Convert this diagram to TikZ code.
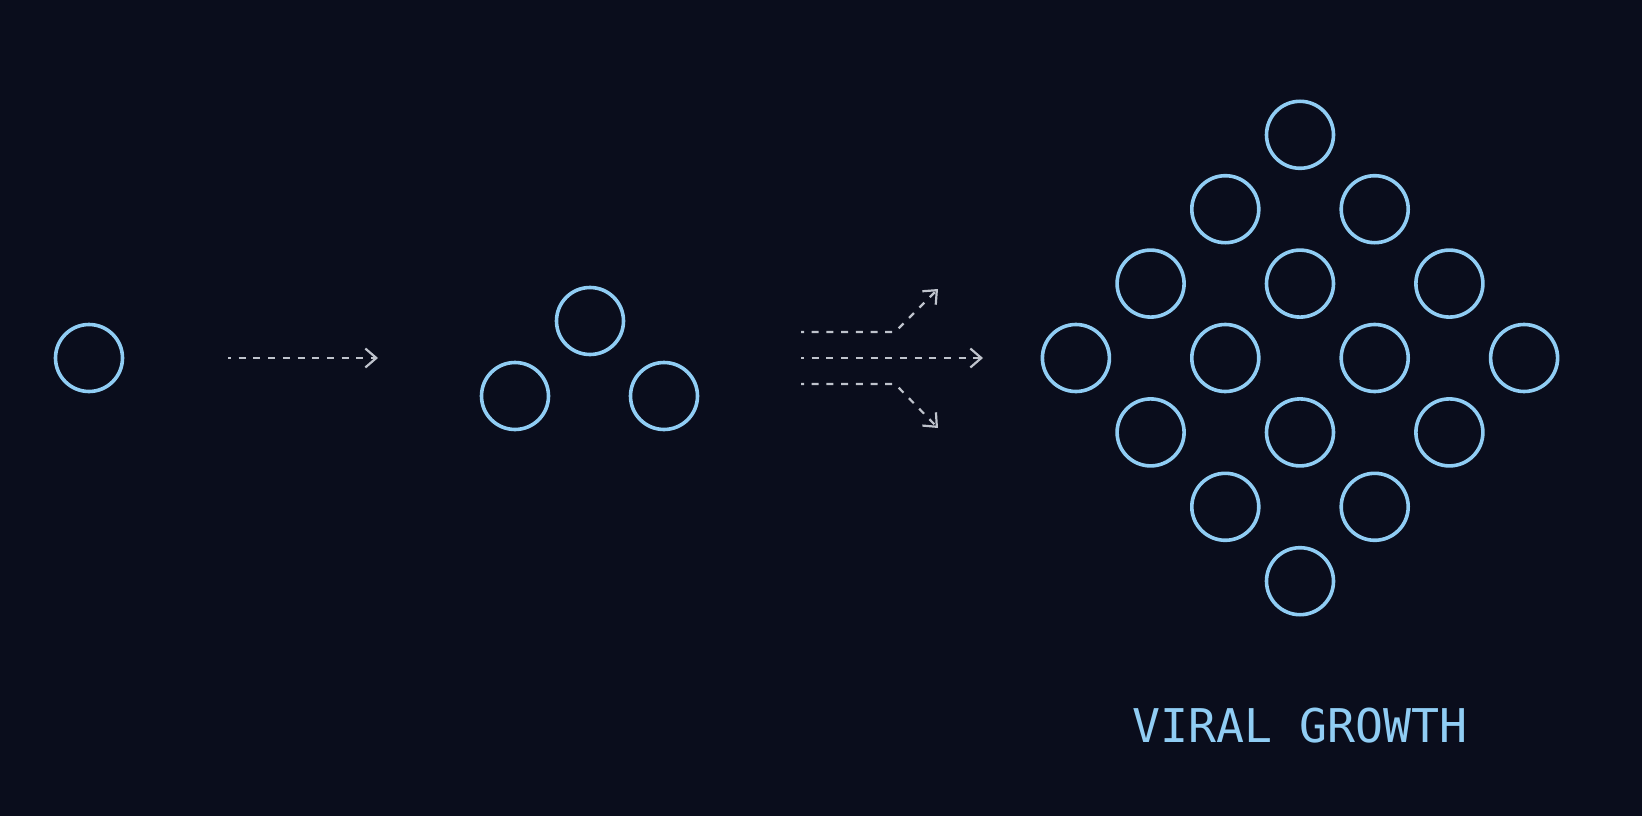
\documentclass[tikz,border=0pt]{standalone}
\usepackage{fontspec}
\newfontfamily\monofont{DejaVu Sans Mono}
\usetikzlibrary{arrows.meta, positioning, calc}

\definecolor{bgdark}{HTML}{0A0D1C}
\definecolor{cellblue}{HTML}{90CDF4}
\definecolor{flowgray}{HTML}{BFC3CC}

\begin{document}
\begin{tikzpicture}[
  x=1pt, y=-1pt,
  % Define styles for different elements
  cell/.style={draw=cellblue, line width=3.6pt, circle, minimum size=67pt, inner sep=0pt},
  flow/.style={draw=flowgray, line width=2.2pt, dash pattern=on 7pt off 7.7pt, dash phase=4pt,
    -{Straight Barb[length=11pt, width=19pt, line width=2.2pt]}},
  titletext/.style={text=cellblue, font=\monofont\fontsize{46.5}{52}\selectfont, anchor=base}
]

% Background
\fill[bgdark] (0,0) rectangle (1642,816);
\useasboundingbox (0,0) rectangle (1642,816);

% Stage 1: one
\node[cell] (one) at (89,358) {};

\coordinate (a1_start) at (228,358);
\coordinate (a1_end) at (378,358);
\draw[flow] (a1_start) -- (a1_end);

% Stage 2: three
\node[cell] (top) at (590,321) {};
\node[cell] (left) at (515,396) {};
\node[cell] (right) at (664,396) {};

% Branching arrows
\coordinate (up_start) at (801,332);
\coordinate (up_end) at (938,289);
\coordinate (mid_start) at (801,358);
\coordinate (mid_end) at (983,358);
\coordinate (down_start) at (801,384);
\coordinate (down_end) at (938,428);

\draw[flow] (up_start) -- (891,332) .. controls (895,332) .. (898,329) -- (up_end);
\draw[flow] (mid_start) -- (mid_end);
\draw[flow] (down_start) -- (891,384) .. controls (895,384) .. (898,387) -- (down_end);

% Stage 3: diamond of cells
\coordinate (hub) at (1300,358);
\foreach \dx/\dy in {0/-3, -1/-2, 1/-2, -2/-1, 0/-1, 2/-1,
                     -3/0, -1/0, 1/0, 3/0, -2/1, 0/1, 2/1,
                     -1/2, 1/2, 0/3}
  \node[cell] (cell_\dx_\dy) at ($(hub) + (74.7*\dx, 74.4*\dy)$) {};

\node[titletext] (title) at (1300,742) {VIRAL GROWTH};

\end{tikzpicture}
\end{document}
